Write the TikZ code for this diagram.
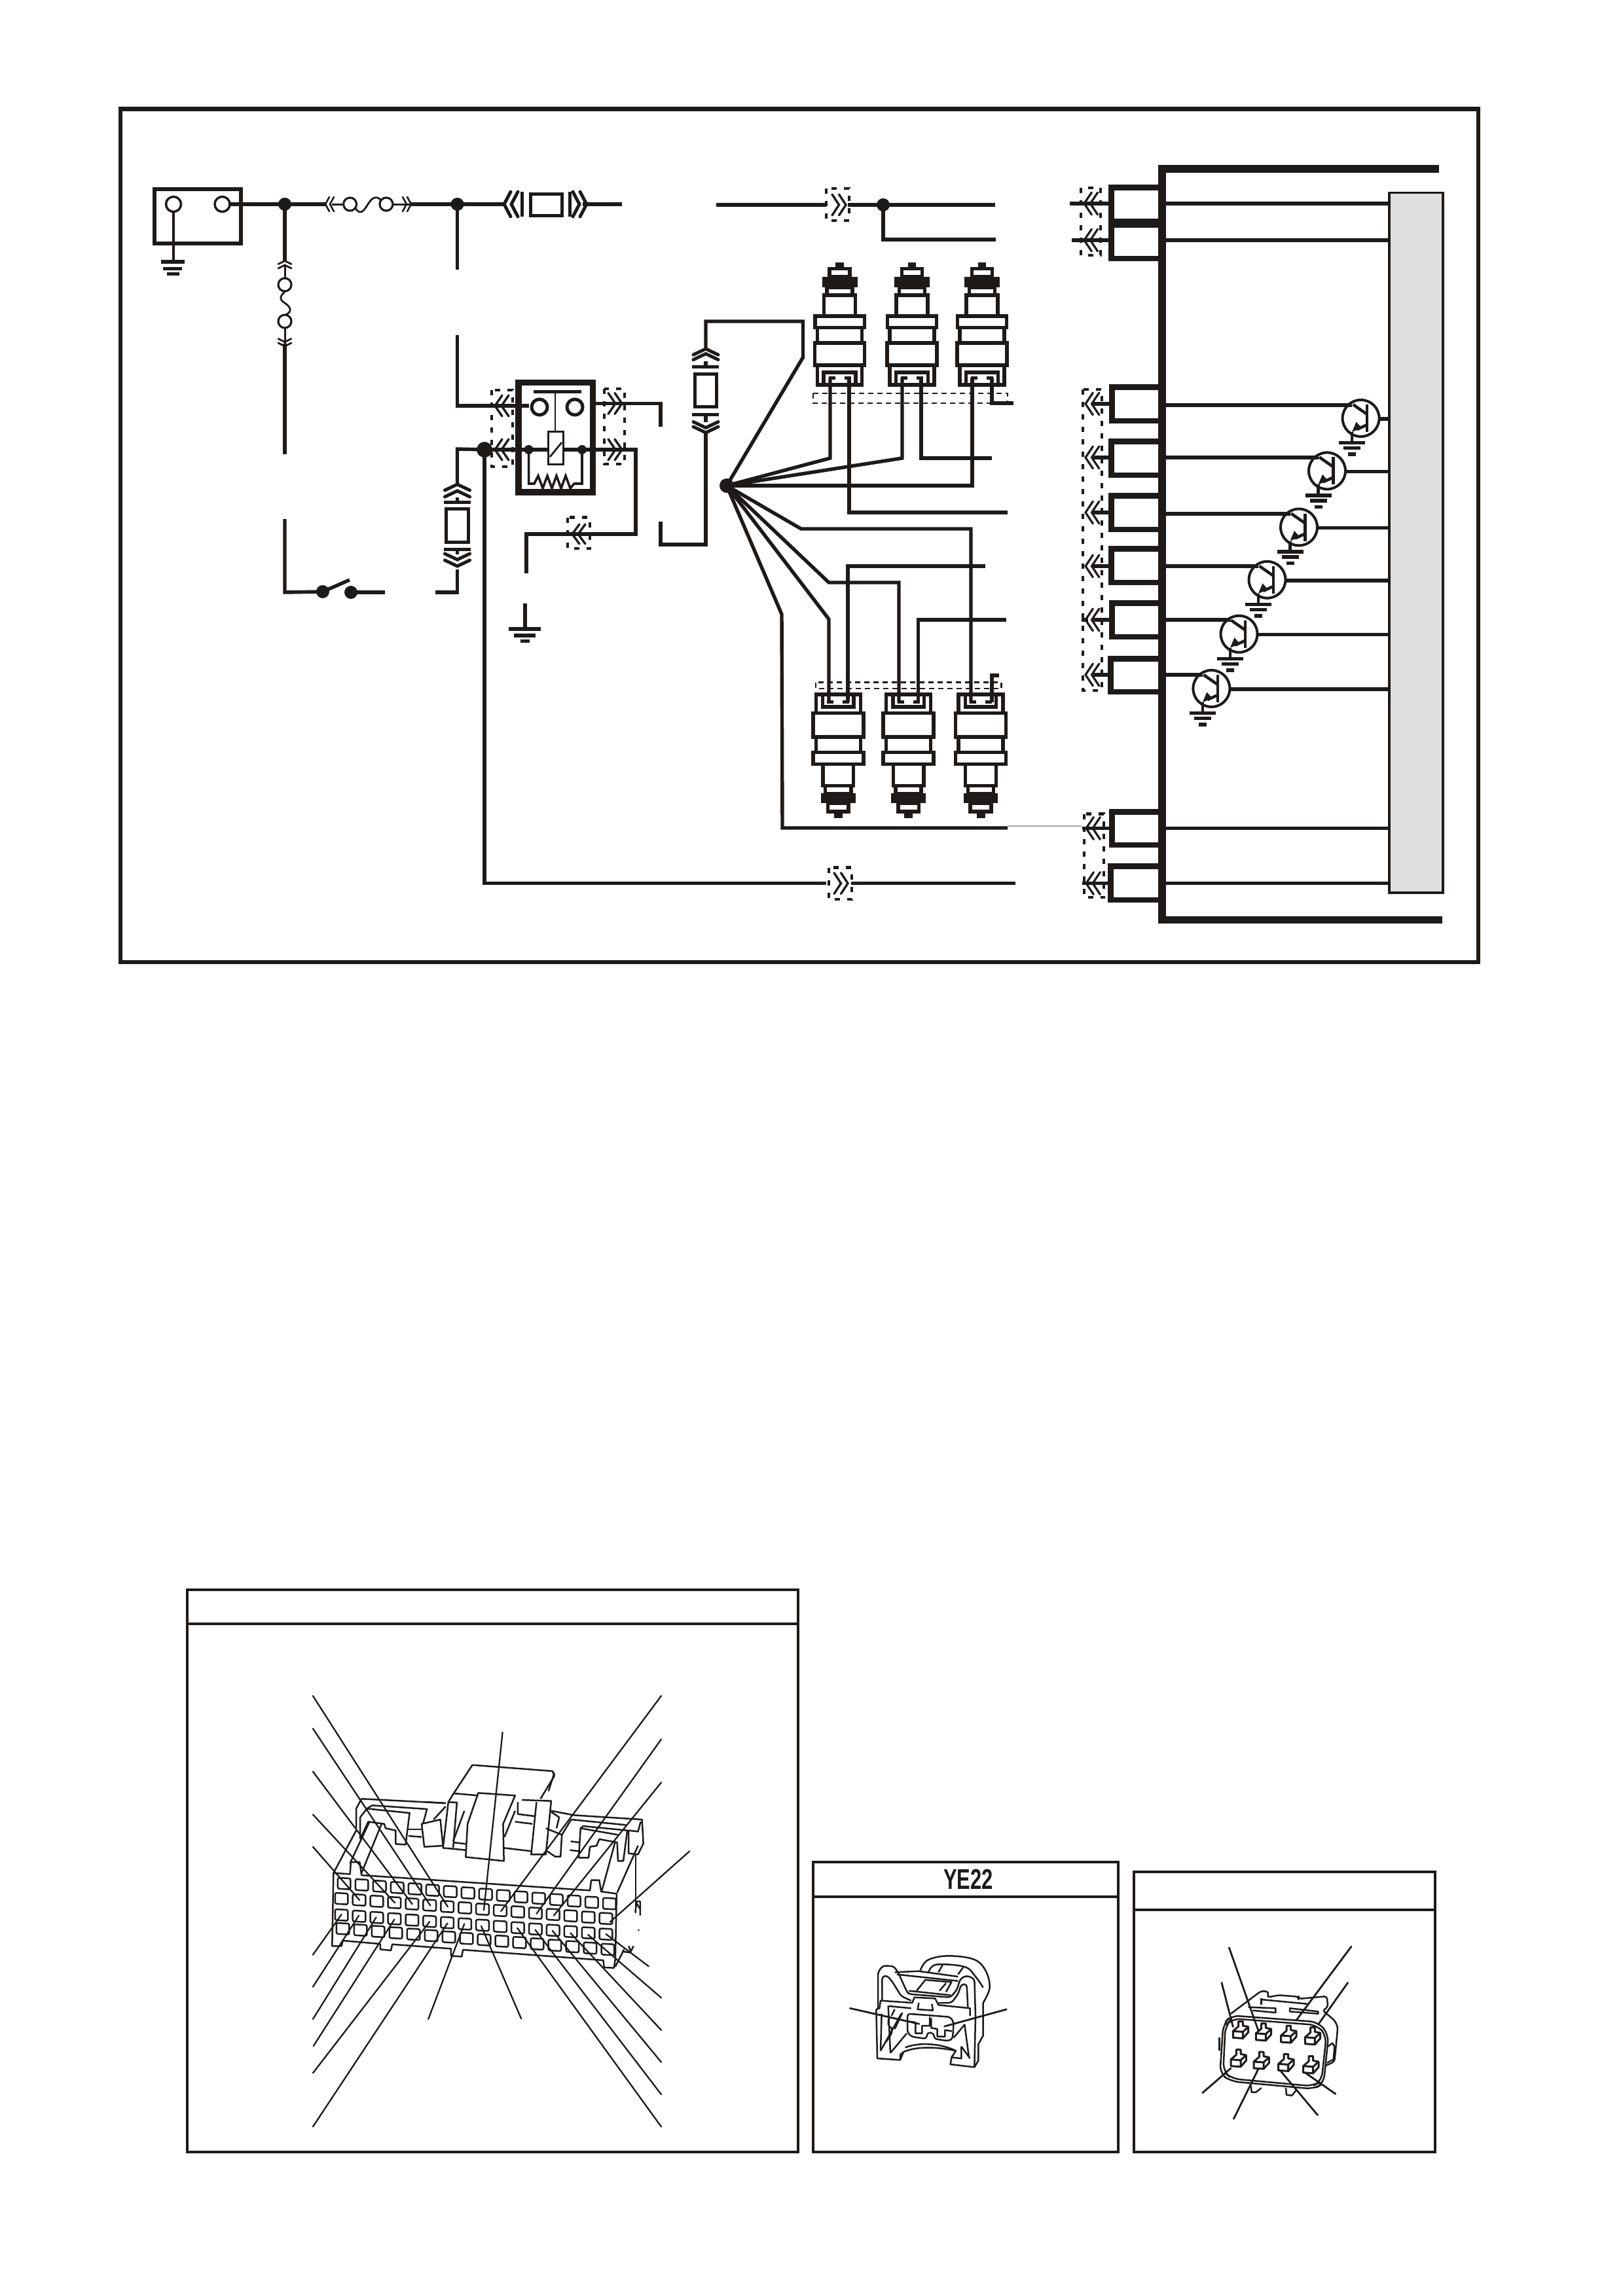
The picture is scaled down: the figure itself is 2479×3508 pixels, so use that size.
\documentclass[tikz,border=0pt]{standalone}
\usepackage{fontspec}
\setmainfont{Liberation Sans}
\definecolor{ink}{HTML}{1E1A18}
\definecolor{panelgrey}{HTML}{DFDFDF}
\newcommand{\pxw}[1]{#1*0.2409pt}
\tikzset{
  wire/.style={draw=ink,line width=\pxw{5.4},line join=miter},
  frameline/.style={draw=ink,line width=\pxw{6.5}},
  panelline/.style={draw=ink,line width=\pxw{3.8}},
  dashbox/.style={draw=ink,line width=\pxw{4.2},dash pattern=on \pxw{8} off \pxw{11}},
  dashthin/.style={draw=ink,line width=\pxw{2.8},dash pattern=on \pxw{8} off \pxw{6}},
  inj/.style={draw=ink,line width=\pxw{5.5}},
  pinthick/.style={draw=ink,line width=\pxw{8.5}},
  busline/.style={draw=ink,line width=\pxw{11.5}},
  sketchline/.style={draw=ink,line width=\pxw{2.5},line join=round},
  leaderline/.style={draw=ink,line width=\pxw{2.3},line cap=round},
  leaderbold/.style={draw=ink,line width=\pxw{2.8},line cap=round},
}
% tip at (x,y); rot 0 right, 90 up, 180 left, 270 down
\newcommand{\chevs}[7]{\begin{scope}[shift={(#1,#2)},rotate=#3]
  \draw[draw=ink,line width=\pxw{#7},line cap=round,line join=miter] (-#5,#6)--(0,0)--(-#5,-#6);
  \draw[draw=ink,line width=\pxw{#7},line cap=round,line join=miter] (-#4-#5,#6)--(-#4,0)--(-#4-#5,-#6);
\end{scope}}
\newcommand{\gnd}[2]{%
  \fill[ink] (#1-20,#2-2.7) rectangle (#1+20,#2+2.7);
  \fill[ink] (#1-13,#2+5.3) rectangle (#1+13,#2+10.7);
  \fill[ink] (#1-6,#2+14.8) rectangle (#1+6,#2+20.2);}
\newcommand{\pinbox}[3]{\draw[pinthick] (1771,#2+4.25)--(#1+4.25,#2+4.25)--(#1+4.25,#3-4.25)--(1771,#3-4.25);}
\newcommand{\transis}[2]{\begin{scope}[shift={(#1,#2)}]
  \draw[draw=ink,line width=\pxw{4}] (0,0) circle (28);
  \draw[draw=ink,line width=\pxw{4.5}] (9.5,-21)--(9.5,21);
  \draw[draw=ink,line width=\pxw{4.5}] (-12,-21)--(9.5,-6);
  \draw[draw=ink,line width=\pxw{4.5}] (9.5,10)--(-6,17);
  \fill[ink] (-13.6,21)--(-7,5.5)--(1.4,15)--cycle;
  \draw[draw=ink,line width=\pxw{4.5}] (-13.5,21)--(-13.5,37);
  \gnd{-13.5}{37.6}
\end{scope}}
\newcommand{\injtop}[1]{\begin{scope}[shift={(#1,0)}]
  \fill[ink] (-6.3,400.7) rectangle (6.3,408.5);
  \draw[inj] (-15.5,410.7) rectangle (15.5,423);
  \fill[ink] (-27,423) rectangle (27,439);
  \draw[inj] (-19.6,439) rectangle (19.6,451);
  \draw[inj] (-24,451) rectangle (24,483);
  \draw[inj] (-37.7,483) rectangle (37.7,500.7);
  \draw[inj] (-34,500.7) rectangle (34,524);
  \draw[inj] (-38,524) rectangle (38,558);
  \draw[inj] (-34,558) rectangle (34,588);
  \draw[inj] (-24.5,588)--(-24.5,569)--(24.5,569)--(24.5,588);
  \draw[inj] (-17,577.5)--(-7,577.5);
  \draw[inj] (7,577.5)--(17,577.5);
\end{scope}}
\newcommand{\injbot}[1]{\begin{scope}[shift={(#1,0)}]
  \draw[inj] (-34,1061) rectangle (34,1089.4);
  \draw[inj] (-23.7,1061)--(-23.7,1080)--(23.7,1080)--(23.7,1061);
  \draw[inj] (-38.5,1089.4) rectangle (38.5,1126);
  \draw[inj] (-34,1126) rectangle (34,1149.6);
  \draw[inj] (-38.5,1149.6) rectangle (38.5,1167.5);
  \draw[inj] (-23.3,1167.5) rectangle (23.3,1200.5);
  \draw[inj] (-19.6,1200.5) rectangle (19.6,1213);
  \fill[ink] (-26.3,1212) rectangle (26.3,1227);
  \draw[inj] (-15.8,1227) rectangle (15.8,1240);
  \fill[ink] (-6.5,1242) rectangle (6.5,1250);
  \draw[inj] (-17,1072.4)--(-7,1072.4);
  \draw[inj] (7,1072.4)--(17,1072.4);
\end{scope}}
\newcommand{\terminal}[2]{\begin{scope}[shift={(#1,#2)}]
  \draw[draw=ink,line width=\pxw{3},line join=round,fill=white] (0,0)--(45,3)--(45,33)--(0,30)--cycle;
  \draw[draw=ink,line width=\pxw{3},line join=round] (0,0)--(25,-22)--(25,-45)--(45,-45)--(45,-25)--(70,-20)--(70,5)--(45,33);
  \draw[draw=ink,line width=\pxw{3}] (45,3)--(70,-20);
\end{scope}}
\begin{document}
\begin{tikzpicture}[x=0.2409pt,y=-0.2409pt]
\useasboundingbox (0,0) rectangle (2479,3508);
\fill[white] (0,0) rectangle (2479,3508);
% ---- frame
\draw[frameline] (184,166.5) rectangle (2258,1470);
% ---- named points
\coordinate (hub) at (1110,742);
\coordinate (j1) at (435,312);
\coordinate (j2) at (698.5,312);
\coordinate (j3) at (740,687);
\coordinate (j4) at (1349,313);
% ---- battery
\draw[draw=ink,line width=\pxw{6}] (236,288.5) rectangle (367.5,372);
\draw[draw=ink,line width=\pxw{3.5}] (265,312) circle (11.5);
\draw[draw=ink,line width=\pxw{3.5}] (339.5,312) circle (11.5);
\draw[wire,line width=\pxw{3.5}] (265,323)--(265,399);
\fill[ink] (246,397) rectangle (282,402.5);
\fill[ink] (249,407.5) rectangle (277.6,413);
\fill[ink] (255,416) rectangle (274,421);
\draw[wire] (351,312)--(j1)--(499,312);
\fill[ink] (j1) circle (10);
\chevs{497}{312}{180}{7}{6}{11}{2.6}
\draw[draw=ink,line width=\pxw{3.2}] (534.6,312) circle (10);
\draw[draw=ink,line width=\pxw{3.2}] (590,312) circle (10);
\draw[wire,line width=\pxw{3}] (507,312)--(524,312);
\draw[wire,line width=\pxw{3}] (600,312)--(628,312);
\draw[draw=ink,line width=\pxw{2.8}] (543,318) .. controls (551,332) and (558,318) .. (562,312) .. controls (568,302) and (575,298) .. (582,306);
\chevs{628}{312}{0}{7}{6}{11}{2.6}
\draw[wire] (628,312)--(j2)--(773,312);
\fill[ink] (j2) circle (10);
\chevs{770}{312}{180}{11}{10}{19}{5}
\draw[draw=ink,line width=\pxw{5}] (797,293)--(797,331);
\draw[draw=ink,line width=\pxw{5}] (810,296) rectangle (858,329);
\draw[draw=ink,line width=\pxw{5}] (870,293)--(870,331);
\chevs{896}{312}{0}{11}{10}{19}{5}
\draw[wire] (890,312)--(950,312);
% left vertical fuse
\draw[wire] (j1)--(435,400);
\chevs{435}{398.5}{90}{6.5}{5}{10}{2.8}
\draw[wire,line width=\pxw{3}] (435,405)--(435,425);
\draw[draw=ink,line width=\pxw{3.2}] (435,435) circle (10);
\draw[draw=ink,line width=\pxw{3.2}] (435,491) circle (10);
\draw[draw=ink,line width=\pxw{2.8}] (435,446) .. controls (424,455) and (430,460) .. (435,463) .. controls (443,468) and (448,476) .. (436,481);
\draw[wire,line width=\pxw{3}] (435,501)--(435,525);
\chevs{435}{529}{270}{6.5}{5}{10}{2.8}
\draw[wire] (435,525)--(435,694);
\draw[wire] (435,793)--(435,905)--(493,904);
\fill[ink] (493,904) circle (10);
\fill[ink] (536,905) circle (10);
\draw[wire] (493,904)--(534,886);
\draw[wire] (536,905)--(588,905);
\draw[wire] (665,905)--(698.5,905)--(698.5,870);
% fuse up to relay
\draw[draw=ink,line width=\pxw{5}] (677.5,767)--(719,767);
\draw[draw=ink,line width=\pxw{5}] (681.5,777.5) rectangle (715.5,828);
\draw[draw=ink,line width=\pxw{5}] (677.5,839)--(719,839);
\chevs{698.5}{740}{90}{10}{9}{19}{5}
\chevs{698.5}{865}{270}{10}{9}{19}{5}
\draw[wire] (698.5,740)--(698.5,686)--(j3);
\draw[wire] (698.5,760)--(698.5,767);
\draw[wire] (698.5,839)--(698.5,847);
\draw[wire] (j2)--(698.5,412);
\draw[wire] (698.5,512)--(698.5,620)--(808,620);
% relay
\draw[draw=ink,line width=\pxw{9.5}] (792,584.5) rectangle (905.5,752);
\draw[draw=ink,line width=\pxw{5}] (814.6,598)--(888,598);
\draw[draw=ink,line width=\pxw{2.8}] (848,598)--(848,659);
\draw[draw=ink,line width=\pxw{5},fill=white] (824,622) circle (12);
\draw[draw=ink,line width=\pxw{5},fill=white] (878,622) circle (12);
\draw[wire] (j3)--(837,687);
\draw[wire] (860,687)--(971,687)--(971,816)--(804,816)--(804,876);
\draw[draw=ink,line width=\pxw{3}] (837,659) rectangle (860.5,709);
\draw[draw=ink,line width=\pxw{2.8}] (840,698)--(858,676);
\fill[ink] (807.6,687) circle (7);
\fill[ink] (889,687) circle (7);
\draw[draw=ink,line width=\pxw{3.6}] (807.6,687)--(807.6,739)--(816,739)--(822,727)--(829,746)--(836,727)--(843,746)--(850,727)--(857,746)--(864,727)--(871,746)--(877,739)--(889,739)--(889,687);
\draw[wire] (j3)--(740,1349.6)--(1262,1349.6);
\draw[wire] (1300,1349.6)--(1551,1349.6);
\fill[ink] (j3) circle (12);
\draw[wire] (909,616.5)--(1009,616.5)--(1009,652);
% relay chevrons and dashed boxes
\draw[dashbox] (751,596) rectangle (783,713);
\draw[dashbox] (923,594) rectangle (954,709);
\chevs{756}{620}{180}{10}{11}{16}{3.4}
\chevs{756}{687}{180}{10}{11}{16}{3.4}
\chevs{950}{616.5}{0}{10}{11}{16}{3.4}
\chevs{950}{687}{0}{10}{11}{16}{3.4}
\draw[dashbox] (867,790.5) rectangle (901,838);
\chevs{874}{816}{180}{9}{11}{15}{3.4}
% ground of relay
\draw[wire] (802,922)--(802,961);
\fill[ink] (777,958) rectangle (826,964);
\fill[ink] (785,968) rectangle (818,974);
\fill[ink] (795,977) rectangle (809,982);
% second fuse and hub wires
\draw[wire] (1009,797)--(1009,832)--(1078,832)--(1078,659);
\draw[draw=ink,line width=\pxw{5}] (1057,560)--(1098,560);
\draw[draw=ink,line width=\pxw{5}] (1061.5,571.5) rectangle (1094,621);
\draw[draw=ink,line width=\pxw{5}] (1057,633)--(1098,633);
\chevs{1078}{533}{90}{7.5}{9}{19}{5}
\chevs{1078}{661}{270}{7.5}{9}{19}{5}
\draw[wire] (1078,533)--(1078,491)--(1226.5,491)--(1226.5,546)--(hub);
\draw[wire] (1078,552)--(1078,560);
\draw[wire] (1078,633)--(1078,645);
\fill[ink] (hub) circle (11);
\draw[wire] (1094,313)--(1262,313);
\draw[wire] (1295,313)--(j4)--(1520,313);
\draw[wire] (j4)--(1349,366)--(1521,366);
\fill[ink] (j4) circle (10);
\draw[dashbox] (1262,288) rectangle (1297,337);
\chevs{1292}{313}{0}{10.5}{10.5}{16}{3.4}
% injectors
\injtop{1282.6}\injtop{1393}\injtop{1500}
\draw[dashthin] (1242,601) rectangle (1539,616);
\draw[wire] (1268,577)--(1268,700)--(hub);
\draw[wire] (1378,577)--(1378,700)--(hub);
\draw[wire] (1407,577)--(1407,700)--(1515,700);
\draw[wire] (1485,577)--(1485,742)--(hub);
\draw[wire] (1515,577)--(1515,616)--(1548,616);
\draw[wire] (1297,577)--(1297,783)--(1539,783);
\injbot{1280.3}\injbot{1387.6}\injbot{1498}
\draw[dashthin] (1246,1042.5) rectangle (1529.5,1052);
\draw[wire] (hub)--(1223.6,808)--(1483,808)--(1483,1073);
\draw[wire] (hub)--(1266,890)--(1373,890)--(1373,1073);
\draw[wire] (hub)--(1266,946)--(1266,1073);
\draw[wire] (hub)--(1194,938.5)--(1195,1265)--(1539,1265);
\draw[wire] (1295,1073)--(1295,865)--(1505,865);
\draw[wire] (1402.5,1073)--(1402.5,947)--(1537,947);
\draw[wire] (1515,1073)--(1515,1032)--(1526,1032);
\draw[dashbox] (1266,1325.5) rectangle (1301,1374);
\chevs{1295}{1349.6}{0}{10.5}{10.5}{16}{3.4}
\draw[draw=black!35,line width=\pxw{1.2}] (1539,1262)--(1652,1262);
% ---- ECU
\fill[panelgrey] (2122,294.6) rectangle (2204,1364);
\draw[draw=ink,line width=\pxw{3.5}] (2122,294.6) rectangle (2204,1364);
\draw[busline] (2198,258)--(1775,258)--(1775,1405.5)--(2203,1405.5);
\pinbox{1693}{282}{342.5}
\pinbox{1693}{339.5}{399}
\pinbox{1694}{587}{647}
\pinbox{1693}{670}{730}
\pinbox{1693}{753}{813}
\pinbox{1693}{834}{894}
\pinbox{1694}{917}{977}
\pinbox{1692}{1002}{1061}
\pinbox{1694}{1236}{1295}
\pinbox{1692}{1319}{1379}
% ECU wires
\foreach \yy/\xl in {311/1634,367/1637,1265.5/1652.6,1349.6/1652.6}{
  \draw[wire] (1781,\yy)--(2122,\yy);
  \draw[wire] (\xl,\yy)--(1695,\yy);
}
\foreach \yy in {617,699,783,865,947,1031}{\draw[wire] (1670,\yy)--(1695,\yy);}
\draw[wire] (1652,947)--(1662,947);
\draw[wire] (1781,619)--(2065,619);
\draw[wire] (1781,699)--(2014,699);
\draw[wire] (1781,785)--(1971,785);
\draw[wire] (1781,865)--(1922,865);
\draw[wire] (1781,947)--(1880,947);
\draw[wire] (1781,1031)--(1837,1031);
\foreach \cx/\cy in {2078.6/639,2027/719.4,1984/805.5,1935.5/885.8,1892.5/968.7,1850.4/1052}{
  \transis{\cx}{\cy}
  \draw[wire] (\cx+28,\cy+1)--(2122,\cy+1);
}
% ECU chevrons
\draw[dashbox] (1651,287) rectangle (1681,390);
\chevs{1656}{311}{180}{9.3}{11.4}{17}{3.2}
\chevs{1656}{367}{180}{9.3}{11.4}{17}{3.2}
\draw[dashbox] (1654,595) rectangle (1683,1055);
\foreach \yy in {617,699,783,865,947,1031}{\chevs{1658}{\yy}{180}{9.5}{11.4}{17}{3.2}}
\draw[dashbox] (1656,1243.5) rectangle (1686,1371);
\foreach \yy in {1265.5,1349.6}{\chevs{1659}{\yy}{180}{10}{11.4}{17}{3.2}}
% ---- panels
\draw[panelline] (286,2429) rectangle (1219,3288);
\draw[panelline] (286,2481)--(1219,2481);
\draw[panelline] (1242,2845) rectangle (1708,3288);
\draw[panelline] (1242,2898)--(1708,2898);
\draw[panelline] (1732,2860) rectangle (2192,3288);
\draw[panelline] (1732,2918)--(2192,2918);
\node[inner sep=0pt,text=ink,font=\fontsize{10.5pt}{12pt}\selectfont\bfseries,xscale=.71] (ye) at (1479,2871) {YE22};
% ---- connector A
\begin{scope}[shift={(440,2580)},xscale=.408,yscale=.33333]
\draw[sketchline] (170,845)--(232,850)--(235,795)--(268,795)--(275,855)--(1130,925)--(1135,878)--(1165,878)--(1172,930)--(1230,940)--(1225,1240)--(1220,1280)--(1183,1278)--(1180,1245)--(655,1197)--(650,1228)--(610,1225)--(610,1192)--(390,1172)--(385,1200)--(345,1195)--(345,1170)--(205,1155)--(200,1180)--(165,1180)--cycle;
\draw[sketchline] (620,480)--(690,350)--(990,378)--(997,400)--(945,505);
\draw[sketchline] (997,385)--(975,470);
\draw[sketchline] (712,478)--(850,490)--(805,620)--(808,790)--(665,772)--(672,620)--cycle;
\draw[sketchline] (620,480)--(712,490);
\draw[sketchline] (620,480)--(600,520)--(580,730)--(665,740);
\draw[sketchline] (600,520)--(632,522)--(618,730);
\draw[sketchline] (618,700)--(660,560);
\draw[sketchline] (618,705)--(668,712);
\draw[sketchline] (875,510)--(985,515)--(965,760)--(910,760)--(930,520);
\draw[sketchline] (850,610)--(915,620);
\draw[sketchline] (810,680)--(850,560);
\draw[sketchline] (860,520)--(860,575)--(925,585);
\draw[sketchline] (808,730)--(910,745);
\draw[sketchline] (590,525)--(520,520);
\draw[sketchline] (500,620)--(570,600)--(580,720)--(510,725)--cycle;
\draw[sketchline] (450,645)--(505,645);
\draw[sketchline] (450,675)--(500,680);
\draw[sketchline] (275,505)--(590,525);
\draw[sketchline] (255,640)--(255,550)--(275,505);
\draw[sketchline] (315,535)--(520,552)--(505,620);
\draw[sketchline] (270,690)--(270,590)--(295,550)--(455,570)--(440,715)--(403,712)--(403,650)--(365,640)--(360,620)--(300,610)--(270,690);
\draw[sketchline] (295,550)--(315,535);
\draw[sketchline] (170,845)--(255,650);
\draw[sketchline] (305,610)--(232,800);
\draw[sketchline] (350,620)--(275,845);
\draw[sketchline] (545,600)--(590,540);
\draw[sketchline] (965,640)--(1025,670)--(1020,770)--(1000,770)--(970,745);
\draw[sketchline] (985,560)--(1070,580)--(1325,600)--(1330,710)--(1310,760)--(1275,755)--(1275,650)--(1310,655)--(1320,610);
\draw[sketchline] (985,565)--(1015,590)--(1005,640);
\draw[sketchline] (1060,600)--(1265,625);
\draw[sketchline] (1060,600)--(1025,670);
\draw[sketchline] (1105,630)--(1270,650)--(1255,790)--(1235,790)--(1232,705)--(1165,690)--(1155,720)--(1130,725)--(1125,775)--(1088,775)--(1095,640)--cycle;
\draw[sketchline] (1095,640)--(1235,670);
\draw[sketchline] (1175,925)--(1225,700);
\draw[sketchline] (1232,935)--(1310,720);
\draw[sketchline] (1302,760)--(1302,1030);
\draw[sketchline] (1058,700)--(1090,705);
\draw[sketchline] (1055,740)--(1088,745);
\draw[sketchline] (1300,1025)--(1305,975)--(1318,975)--(1318,1040);
\draw[sketchline] (1305,985)--(1318,1010);
\fill[ink] (1312,1107) circle (4);
\draw[sketchline] (1275,1180)--(1283,1205)--(1293,1180);
\draw[sketchline] (1225,1275)--(1258,1195);
\draw[sketchline] (1250,1205)--(1285,1210);
\foreach \xa/\ya/\xb/\yb in {210/893/1203/985,200/962/1190/1053,200/1037/1190/1125,205/1100/1197/1195}{
  \foreach \c in {0,...,15}{
    \pgfmathsetmacro{\cx}{\xa+\c*(\xb-\xa)/15}
    \pgfmathsetmacro{\cy}{\ya+\c*(\yb-\ya)/15}
    \draw[sketchline,rounded corners=0.6pt] (\cx-24,\cy-26)--(\cx+24,\cy-23)--(\cx+24,\cy+27)--(\cx-24,\cy+24)--cycle;
  }
}
\foreach \ax/\ay/\bx/\by in {93/33/598/1000,93/183/533/995,93/380/465/988,93/577/400/982,93/725/268/970,803/200/733/1015,1397/33/797/1020,1397/232/930/1032,1397/430/995/1040,1503/745/1205/1070,
  93/1220/200/1035,93/1367/265/1040,93/1515/330/1048,95/1638/398/1058,93/1762/530/1068,93/2008/597/1075,525/1515/660/1078,873/1513/723/1088,1397/2008/858/1097,1397/1860/925/1105,1397/1712/990/1110,1397/1565/1057/1120,1397/1417/1123/1128,1350/1273/1190/1125}{
  \draw[leaderline] (\ax,\ay)--(\bx,\by);
}
\end{scope}
% ---- connector B
\begin{scope}[shift={(1260,2850)},scale=.33333]
\draw[sketchline,rounded corners=1pt] (243,660)--(243,490)--(265,460)--(315,462)--(335,490)--(375,578)--(385,590)--(575,605)--(605,570)--(620,520)--(650,505)--(685,520)--(690,690);
\draw[sketchline,rounded corners=1pt] (262,620)--(262,510)--(285,505)--(310,535)--(350,600)--(395,620);
\draw[sketchline,rounded corners=1pt] (520,630)--(580,630)--(610,590)--(625,545)--(650,545)--(655,650);
\draw[sketchline] (320,490)--(430,485)--(610,510);
\draw[sketchline] (330,500)--(610,530);
\draw[sketchline] plot[smooth,tension=.6] coordinates {(437,482) (470,435) (560,415) (680,430) (735,480) (755,560) (725,630)};
\draw[sketchline] plot[smooth,tension=.6] coordinates {(475,490) (510,455) (640,465) (690,510) (725,560)};
\draw[sketchline] (420,575)--(460,525)--(580,535)--(555,580);
\draw[sketchline] (525,575)--(555,540);
\draw[sketchline] (385,575)--(575,595);
\draw[sketchline] (520,490)--(540,455);
\draw[sketchline] (610,500)--(635,465);
\draw[sketchline] (235,660)--(250,655)--(255,620)--(400,630)--(410,605)--(505,610)--(520,640)--(665,655)--(665,690);
\draw[sketchline] (290,645)--(395,655);
\draw[sketchline] (430,630)--(425,660)--(495,665)--(490,635);
\draw[sketchline,rounded corners=1pt] (378,765)--(378,680)--(575,695)--(590,720)--(585,795)--(565,805)--(500,795)--(500,770)--(470,765)--(465,795)--(395,785)--cycle;
\draw[sketchline] (385,715)--(415,720)--(415,770)--(445,770)--(445,735)--(480,735)--(480,695);
\draw[sketchline] (487,700)--(487,745)--(515,750)--(515,785)--(550,785)--(550,755)--(582,760);
\draw[sketchline] (235,660)--(240,885)--(345,892)--(360,855);
\draw[sketchline] (345,892)--(345,868)--(360,855) .. controls (430,825) and (530,835) .. (600,850);
\draw[sketchline] (368,835) .. controls (430,810) and (530,815) .. (600,850)--(580,880)--(575,912)--(685,925)--(703,895)--(703,820)--(725,780)--(725,630);
\draw[sketchline] (690,690)--(685,925);
\draw[sketchline] (580,880)--(625,885)--(625,830);
\draw[sketchline] (255,850)--(260,680);
\draw[sketchline] (255,850)--(350,680);
\draw[sketchline] (300,860)--(375,770);
\draw[sketchline] (290,645)--(300,860);
\draw[sketchline] (295,700) .. controls (285,720) and (290,740) .. (305,745) .. controls (315,770) and (290,790) .. (280,810);
\draw[sketchline] (320,660)--(305,690);
\draw[sketchline] (355,675)--(320,750);
\draw[sketchline] (590,790)--(640,730)--(660,880);
\draw[sketchline] (625,830)--(665,885);
\draw[leaderbold] (115,655)--(432,727);
\draw[leaderbold] (832,660)--(548,738);
\end{scope}
% ---- connector C
\begin{scope}[shift={(1780,2930)},scale=.33333]
\draw[sketchline,rounded corners=3pt] (300,448)--(700,478)--(748,535)--(725,760)--(680,785)--(300,750)--(250,715)--(265,490)--cycle;
\draw[sketchline,rounded corners=3pt] (305,462)--(695,492)--(738,540)--(715,750)--(675,772)--(305,738)--(265,705)--(275,495)--cycle;
\draw[sketchline,rounded corners=1pt] (300,440)--(440,335)--(475,340)--(465,365)--(520,355)--(610,362)--(610,372)--(740,360)--(745,410)--(720,425)--(775,470)--(790,500)--(775,660)--(730,680);
\draw[sketchline] (380,410)--(505,415)--(505,435)--(400,425);
\draw[sketchline] (440,375)--(650,395);
\draw[draw=ink,line width=\pxw{3.5}] (440,370)--(440,400);
\draw[sketchline] (570,415)--(700,430)--(700,440)--(570,430)--cycle;
\draw[sketchline] (745,590)--(765,575)--(775,590)--(770,650)--(740,665);
\draw[sketchline] (248,610)--(248,550);
\draw[sketchline] (392,770)--(395,800)--(415,800)--(440,780);
\draw[sketchline] (552,780)--(555,812)--(580,815)--(600,790);
\foreach \tx/\ty in {310/520,415/530,530/540,640/548,300/650,405/660,518/670,632/680}{\terminal{\tx}{\ty}}
\foreach \ax/\ay/\bx/\by in {292/137/425/515,258/298/310/500,852/132/600/470,836/298/700/490,170/803/300/690,313/922/425/695,698/905/530/705,780/808/640/710}{
  \draw[leaderbold] (\ax,\ay)--(\bx,\by);
}
\end{scope}
\end{tikzpicture}
\end{document}
